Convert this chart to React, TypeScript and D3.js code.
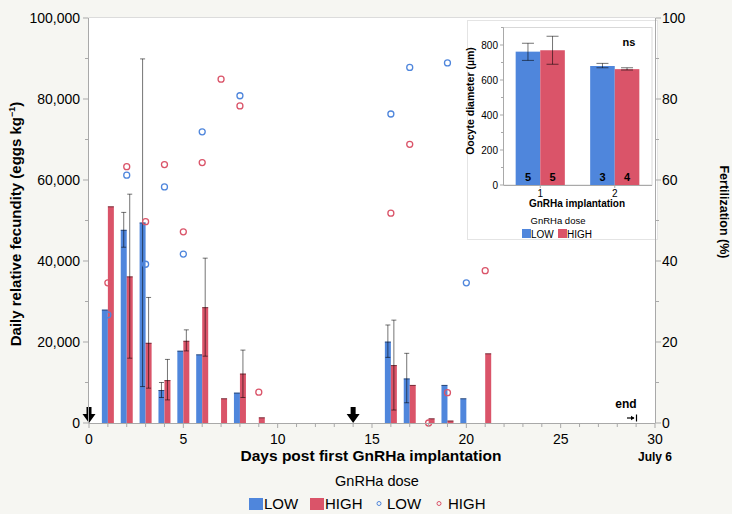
import React from 'react';
import * as d3 from 'd3';

// days with spawning data (days post first GnRHa implantation)
const fecundityDays = [1, 2, 3, 4, 5, 6, 7, 8, 9, 16, 17, 18, 19, 20, 21];

// daily relative fecundity (eggs kg-1), mean and error range, LOW dose
const lowFecundity = [28000, 47700, 49500, 8150, 17850, 16950, null, 7500, null, 20100, 11000, null, 9400, 6100, null];
const lowFecundityLo = [null, 43400, 9000, 6300, null, null, null, null, null, 16200, 5000, null, null, null, null];
const lowFecundityHi = [null, 52000, 89900, 10000, null, null, null, null, null, 24200, 17200, null, null, null, null];

// HIGH dose
const highFecundity = [53500, 36200, 19800, 10600, 20300, 28600, 6100, 12200, 1400, 14300, 9400, 1150, 600, null, 17200];
const highFecundityLo = [null, 16000, 8600, 5700, 17800, 16500, null, 6300, null, 3200, null, null, null, null, null];
const highFecundityHi = [null, 56500, 31000, 15700, 23000, 40700, null, 18000, null, 25400, null, null, null, null, null];

// fertilization (%)
const lowFertDays = [1, 2, 3, 4, 5, 6, 8, 16, 17, 19, 20];
const lowFert = [26.7, 61.2, 39.2, 58.3, 41.7, 71.9, 80.8, 76.3, 87.8, 88.9, 34.6];
const highFertDays = [1, 2, 3, 4, 5, 6, 7, 8, 9, 16, 17, 18, 19, 21];
const highFert = [34.6, 63.3, 49.7, 63.8, 47.2, 64.3, 84.9, 78.3, 7.6, 51.8, 68.8, 0, 7.5, 37.6];

// implantation days (arrows)
const implantDays = [0, 14];

// inset: oocyte diameter per implantation
const implantations = ['1', '2'];
const oocyteLow = [762, 680];
const oocyteLowLo = [712, 670];
const oocyteLowHi = [810, 695];
const oocyteLowN = [5, 3];
const oocyteHigh = [770, 662];
const oocyteHighLo = [690, 657];
const oocyteHighHi = [850, 670];
const oocyteHighN = [5, 4];

const xTicks = [0, 5, 10, 15, 20, 25, 30];
const yTicks = [0, 20000, 40000, 60000, 80000, 100000];
const fertTicks = [0, 20, 40, 60, 80, 100];
const insetTicks = [0, 200, 400, 600, 800];

const colorLow = '#4f86dc';
const colorHigh = '#da5469';
const colorBg = '#f6f6f2';
const axisColor = '#a9a9a9';
const font = '"Liberation Sans", Arial, sans-serif';

export default function App() {
  const x = d3.scaleLinear().domain([0, 30]).range([89, 655]);
  const y = d3.scaleLinear().domain([0, 100000]).range([423, 18]);
  const yFert = d3.scaleLinear().domain([0, 100]).range([423, 18]);
  const fmt = d3.format(',');
  const barW = 6;

  const xi = d3.scaleBand().domain(implantations).range([503, 652]).paddingInner(0.34).paddingOuter(0.17);
  const yi = d3.scaleLinear().domain([0, 900]).range([185, 27.5]);
  const bwi = xi.bandwidth() / 2;

  const arrow = (cx) =>
    `M${cx - 2.5},407 H${cx + 2.5} V414 H${cx + 6.5} L${cx},423 L${cx - 6.5},414 H${cx - 2.5} Z`;

  const errBar = (cx, lo, hi, sc, cap, key) => (
    <g key={key} stroke='#000' strokeOpacity={0.55} strokeWidth={1}>
      <line x1={cx} x2={cx} y1={sc(lo)} y2={sc(hi)} />
      <line x1={cx - cap} x2={cx + cap} y1={sc(lo)} y2={sc(lo)} />
      <line x1={cx - cap} x2={cx + cap} y1={sc(hi)} y2={sc(hi)} />
    </g>
  );

  const bar = (d, i, v, lo, hi, color, side) => {
    if (v == null) return null;
    const x0 = side < 0 ? x(d) - barW : x(d);
    return (
      <g key={side + '-' + d}>
        <rect x={x0} y={y(v)} width={barW} height={y(0) - y(v)} fill={color} />
        <line x1={x0} x2={x0 + barW} y1={y(v) + 0.5} y2={y(v) + 0.5} stroke='#000' strokeOpacity={0.45} />
        {lo[i] != null && errBar(x0 + barW / 2, lo[i], hi[i], y, 2.5, 'e')}
      </g>
    );
  };

  return (
    <svg width={732} height={514} style={{ position: 'absolute', left: 0, top: 0, fontFamily: font }}>
      <rect width={732} height={514} fill={colorBg} />

      {/* plot area */}
      <rect x={89} y={18} width={566} height={405} fill='#fff' />
      <line x1={89} x2={655} y1={17.5} y2={17.5} stroke='#dcdcdc' />

      {/* bars */}
      {fecundityDays.map((d, i) => bar(d, i, lowFecundity[i], lowFecundityLo, lowFecundityHi, colorLow, -1))}
      {fecundityDays.map((d, i) => bar(d, i, highFecundity[i], highFecundityLo, highFecundityHi, colorHigh, 1))}

      {/* fertilization points */}
      {lowFertDays.map((d, i) => (
        <circle key={'lf' + d} cx={x(d)} cy={yFert(lowFert[i])} r={3} fill='none' stroke={colorLow} strokeWidth={1.3} />
      ))}
      {highFertDays.map((d, i) => (
        <circle key={'hf' + d} cx={x(d)} cy={yFert(highFert[i])} r={3} fill='none' stroke={colorHigh} strokeWidth={1.3} />
      ))}

      {/* implantation arrows */}
      {implantDays.map(d => <path key={'a' + d} d={arrow(x(d))} fill='#000' />)}

      {/* end marker */}
      <text x={626} y={408} fontSize={12} fontWeight='bold' textAnchor='middle'>end</text>
      <line x1={627} x2={634} y1={418} y2={418} stroke='#000' strokeWidth={1.2} />
      <path d='M634.5,418 L631,415.8 L631,420.2 Z' fill='#000' />
      <line x1={636.5} x2={636.5} y1={414.5} y2={421.5} stroke='#000' strokeWidth={1.2} />

      {/* x axis */}
      <line x1={89} x2={655} y1={423.5} y2={423.5} stroke={axisColor} />
      {d3.range(0, 31).map(t => (
        <line key={'xt' + t} x1={x(t)} x2={x(t)} y1={423.5} y2={t % 5 === 0 ? 428 : 427} stroke={axisColor} />
      ))}
      {xTicks.map(t => (
        <text key={'xl' + t} x={x(t)} y={444} fontSize={14} textAnchor='middle'>{t}</text>
      ))}
      <text x={371} y={461} fontSize={15.5} fontWeight='bold' textAnchor='middle'>Days post first GnRHa implantation</text>
      <text x={655} y={461} fontSize={12} fontWeight='bold' textAnchor='middle'>July 6</text>

      {/* left axis */}
      <line x1={88.5} x2={88.5} y1={18} y2={423.5} stroke={axisColor} />
      {d3.range(0, 100001, 10000).map(t => (
        <line key={'yt' + t} x1={t % 20000 === 0 ? 83 : 85} x2={88.5} y1={y(t)} y2={y(t)} stroke={axisColor} />
      ))}
      {yTicks.map(t => (
        <text key={'yl' + t} x={80} y={y(t) + 5} fontSize={14} textAnchor='end'>{fmt(t)}</text>
      ))}
      <text transform='translate(21,224) rotate(-90)' fontSize={15} fontWeight='bold' textAnchor='middle'>
        Daily relative fecundity (eggs kg<tspan fontSize={9} dy={-6}>−1</tspan><tspan dy={6}>)</tspan>
      </text>

      {/* inset panel */}
      <g>
        <rect x={467.5} y={20.5} width={190} height={219} fill='#fff' stroke='#e4e4e4' />
        <rect x={503.5} y={27.5} width={148.5} height={157.5} fill='#fff' stroke='#d8d8d8' />
        {implantations.map((k, i) => (
          <g key={'ib' + k}>
            <rect x={xi(k)} y={yi(oocyteLow[i])} width={bwi} height={yi(0) - yi(oocyteLow[i])} fill={colorLow} />
            <rect x={xi(k) + bwi} y={yi(oocyteHigh[i])} width={bwi} height={yi(0) - yi(oocyteHigh[i])} fill={colorHigh} />
            {errBar(xi(k) + bwi / 2, oocyteLowLo[i], oocyteLowHi[i], yi, 6, 'el')}
            {errBar(xi(k) + bwi * 1.5, oocyteHighLo[i], oocyteHighHi[i], yi, 6, 'eh')}
            <text x={xi(k) + bwi / 2} y={181} fontSize={11} fontWeight='bold' textAnchor='middle'>{oocyteLowN[i]}</text>
            <text x={xi(k) + bwi * 1.5} y={181} fontSize={11} fontWeight='bold' textAnchor='middle'>{oocyteHighN[i]}</text>
            <line x1={xi(k) + bwi} x2={xi(k) + bwi} y1={185} y2={188} stroke={axisColor} />
            <text x={xi(k) + bwi} y={197} fontSize={10} textAnchor='middle'>{k}</text>
          </g>
        ))}
        <line x1={503.5} x2={503.5} y1={27.5} y2={185} stroke={axisColor} />
        <line x1={503.5} x2={652} y1={185.5} y2={185.5} stroke={axisColor} />
        {d3.range(0, 901, 100).map(t => (
          <line key={'it' + t} x1={t % 200 === 0 ? 500 : 501} x2={503.5} y1={yi(t)} y2={yi(t)} stroke={axisColor} />
        ))}
        {insetTicks.map(t => (
          <text key={'il' + t} x={498} y={yi(t) + 3.5} fontSize={10} textAnchor='end'>{t}</text>
        ))}
        <text x={629} y={46} fontSize={11} fontWeight='bold' textAnchor='middle'>ns</text>
        <text transform='translate(474,101) rotate(-90)' fontSize={10.5} fontWeight='bold' textAnchor='middle'>Oocyte diameter (µm)</text>
        <text x={577} y={207} fontSize={10} fontWeight='bold' textAnchor='middle'>GnRHa implantation</text>
        <text x={558} y={224} fontSize={9.5} textAnchor='middle'>GnRHa dose</text>
        <rect x={522} y={229} width={9} height={9} fill={colorLow} />
        <text x={531} y={237.5} fontSize={10}>LOW</text>
        <rect x={558} y={229} width={9} height={9} fill={colorHigh} />
        <text x={567} y={237.5} fontSize={10}>HIGH</text>
      </g>

      {/* right axis */}
      <line x1={655.5} x2={655.5} y1={18} y2={423.5} stroke={axisColor} />
      {d3.range(0, 101, 10).map(t => (
        <line key={'rt' + t} x1={655.5} x2={t % 20 === 0 ? 661 : 659} y1={yFert(t)} y2={yFert(t)} stroke={axisColor} />
      ))}
      {fertTicks.map(t => (
        <text key={'rl' + t} x={662} y={yFert(t) + 5} fontSize={14}>{t}</text>
      ))}
      <text transform='translate(720,212) rotate(90)' fontSize={12.5} fontWeight='bold' textAnchor='middle'>Fertilization (%)</text>

      {/* legend */}
      <text x={377} y={486} fontSize={14.5} textAnchor='middle'>GnRHa dose</text>
      <rect x={249} y={498} width={14} height={12} fill={colorLow} />
      <text x={264} y={509} fontSize={15}>LOW</text>
      <rect x={310} y={498} width={14} height={12} fill={colorHigh} />
      <text x={325} y={509} fontSize={15}>HIGH</text>
      <circle cx={379} cy={503.5} r={2} fill='none' stroke={colorLow} strokeWidth={1} />
      <text x={387} y={509} fontSize={15}>LOW</text>
      <circle cx={439} cy={503.5} r={2} fill='none' stroke={colorHigh} strokeWidth={1} />
      <text x={448} y={509} fontSize={15}>HIGH</text>
    </svg>
  );
}
